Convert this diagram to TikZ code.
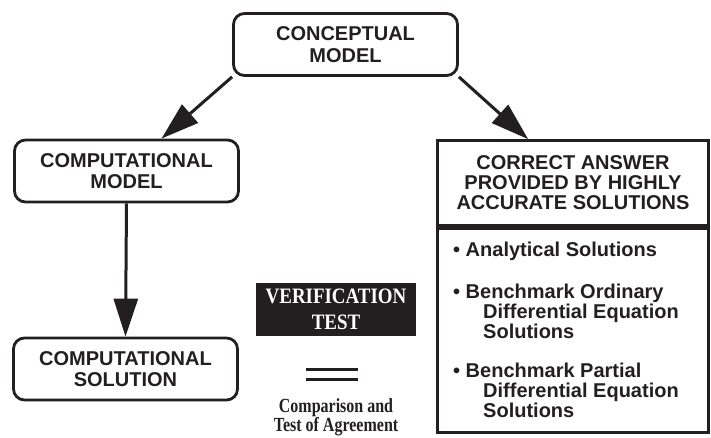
\documentclass[tikz,border=0pt]{standalone}
\usepackage{fontspec}
\setmainfont{Liberation Sans}
\newfontfamily\vtfont[FakeStretch=0.86]{Liberation Serif}
\newfontfamily\cmpfont[FakeStretch=0.8]{Liberation Serif}
\usetikzlibrary{positioning,arrows.meta,calc}
\definecolor{ink}{HTML}{231F20}

\begin{document}
\begin{tikzpicture}[x=1pt,y=1pt,
        box/.style={draw=ink,line width=2.8pt,rounded corners=11pt,minimum width=224pt,minimum height=62pt,
            align=center,text=ink,font=\bfseries\fontsize{20}{21.5}\selectfont},
        ansbox/.style={draw=ink,line width=2.6pt,minimum width=271pt,align=center,text=ink,
            font=\bfseries\fontsize{20}{20}\selectfont},
        item/.style={anchor=base west,align=left,inner sep=0pt,text=ink,font=\bfseries\fontsize{20}{20}\selectfont},
        arr/.style={draw=ink,line width=3pt,-{Triangle[length=38pt,width=24pt]}}]
    \useasboundingbox (0,0) rectangle (711,437);

    \node (cmod) [box] at (345.5,392.5) {CONCEPTUAL\\MODEL};
    \node (comp) [box] at (126.5,266) {COMPUTATIONAL\\MODEL};
    \node (csol) [box] at (125.5,68) {COMPUTATIONAL\\SOLUTION};

    \node (ans) [ansbox,minimum height=85pt] at (573,254) {CORRECT ANSWER\\PROVIDED BY HIGHLY\\ACCURATE SOLUTIONS};
    \node (sols) [ansbox,minimum height=204pt] at (573,106.5) {};

    \node (anl) [item] at (453,181) {\textbullet\ Analytical Solutions};
    \node (ode) [item] at (453,99) {\textbullet\ Benchmark Ordinary\\\hspace*{30pt}Differential Equation\\\hspace*{30pt}Solutions};
    \node (pde) [item] at (453,20) {\textbullet\ Benchmark Partial\\\hspace*{30pt}Differential Equation\\\hspace*{30pt}Solutions};

    \node (vt) [fill=ink,minimum width=160pt,minimum height=53pt,align=center,text=white,
        font=\vtfont\bfseries\fontsize{22}{26}\selectfont] at (336,127.5) {VERIFICATION\\TEST};
    \node (cmp) [align=center,text=ink,font=\cmpfont\bfseries\fontsize{20}{18}\selectfont] at (336,20) {Comparison and\\Test of Agreement};

    \draw [ink,line width=3pt] (306,68) -- (358,68) (306,58) -- (358,58);

    \draw [arr] (cmod.south west) -- ($(comp.north)+(35,0)$);
    \draw [arr] (cmod.south east) -- ($(ans.north west)+(92,0)$);
    \draw [arr] (comp.south) -- (csol.north);
\end{tikzpicture}
\end{document}
